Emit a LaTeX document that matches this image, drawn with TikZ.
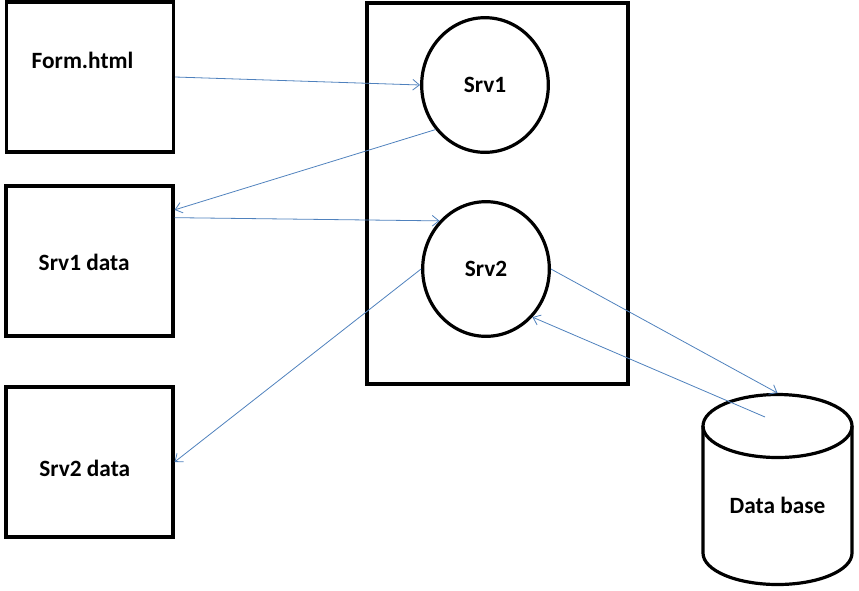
\documentclass[tikz,border=0pt]{standalone}
\usepackage{fontspec}
\setmainfont{Carlito}
\usetikzlibrary{shapes.geometric,arrows.meta,positioning}
\definecolor{arrowblue}{RGB}{79,129,189}

\tikzset{
  box/.style={draw,line width=2.6pt,minimum width=125pt,minimum height=112.5pt,inner sep=0pt},
  srv/.style={draw,ellipse,line width=2.4pt,minimum width=95pt,minimum height=101pt,inner sep=0pt},
  conn/.style={draw=arrowblue,line width=0.6pt,-{Straight Barb[length=5pt,width=8pt]}},
  every node/.style={font=\fontsize{17.5}{21}\selectfont\bfseries},
  every label/.style={font=\fontsize{17.5}{21}\selectfont\bfseries}
}

\begin{document}
\begin{tikzpicture}[x=0.75pt,y=-0.75pt]
\useasboundingbox (0,0) rectangle (859,590);

% left column
\node[box,label={[shift={(-5.6pt,12.75pt)}]center:Form.html}] (form) at (90,77) {};
\node[box,label={[shift={(-4pt,-0.8pt)}]center:Srv1 data}] (d1) at (89.5,261) {};
\node[box,label={[shift={(-3.6pt,-4.5pt)}]center:Srv2 data}] (d2) at (89.5,462) {};

% servers
\node[draw,line width=2.6pt,minimum width=195.75pt,minimum height=285.75pt] (srvbox) at (497.5,193.5) {};
\node[srv] (srv1) at (485,85) {Srv1};
\node[srv] (srv2) at (486,269) {Srv2};

% database
\draw[line width=2.4pt] (777.5,426) ellipse [x radius=74.5,y radius=31.5];
\draw[line width=2.4pt] (703,426) -- (703,553) arc[start angle=180,end angle=0,x radius=74.5,y radius=31.5] -- (852,426);
\node (db) at (777.5,505) {Data base};
\coordinate (dbtop) at (777.5,393);
\coordinate (dbin) at (765,417);

\draw[conn] (form.east) -- (srv1.west);
\draw[conn] (srv1.222) -- (d1.31);
\draw[conn] (d1.27) -- (srv2.134);
\draw[conn] (srv2.west) -- (d2.east);
\draw[conn] (srv2.east) -- (dbtop);
\draw[conn] (dbin) -- (srv2.314);
\end{tikzpicture}
\end{document}
